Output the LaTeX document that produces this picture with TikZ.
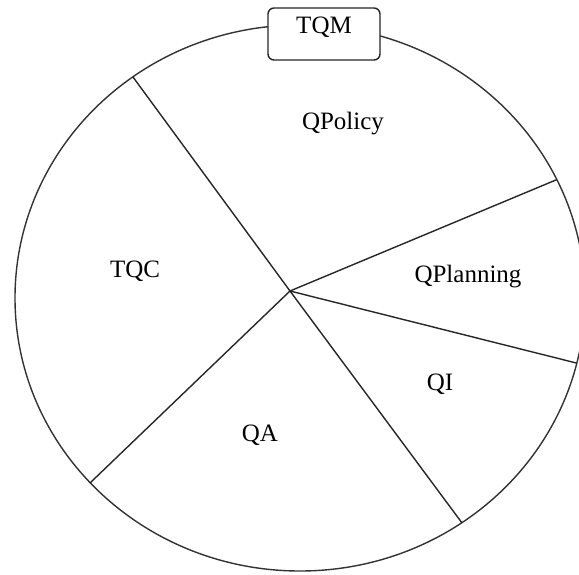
\documentclass[tikz,border=0pt]{standalone}
\usepackage{fontspec}
\setmainfont{Liberation Serif}
\usetikzlibrary{calc}
\begin{document}
\begin{tikzpicture}[
            x=1pt, y=-1pt,
            font=\fontsize{25}{30}\selectfont,
            rimline/.style={line width=1.4pt, black!80},
            spoke/.style={line width=1.4pt, black!85},
            sector/.style={anchor=base, inner sep=0pt},
            tab/.style={
                draw=black!85, line width=1.4pt, rounded corners=6pt, fill=white,
                minimum width=112pt, inner xsep=0pt, inner ysep=3pt,
                text height=22pt, text depth=24pt,
            },
        ]
            \useasboundingbox (0,0) rectangle (579,574);
            \clip (0,0) rectangle (579,574);

            % --- outline of the wheel ---
            \coordinate (c) at (300,298);
            \draw[rimline] (c) ellipse [x radius=285, y radius=273];

            % --- spokes from the hub to the rim ---
            \coordinate (hub) at (290,291);
            \foreach \ang [count=\i] in {234.1,334.3,13.8,55.4,137.4}
                \coordinate (rim\i) at ($(c)+(\ang:285 and 273)$);
            \foreach \i in {1,...,5}
                \draw[spoke] (hub) -- (rim\i);

            % --- tab on top ---
            \node[tab] (tqm) at (324,34) {TQM};

            % --- sector labels ---
            \node[sector] (policy) at (343,129) {QPolicy};
            \node[sector] (planning) at (468,282) {QPlanning};
            \node[sector] (tqc) at (135,277) {TQC};
            \node[sector] (qi) at (440,390) {QI};
            \node[sector] (qa) at (260,441) {QA};
        \end{tikzpicture}
\end{document}
